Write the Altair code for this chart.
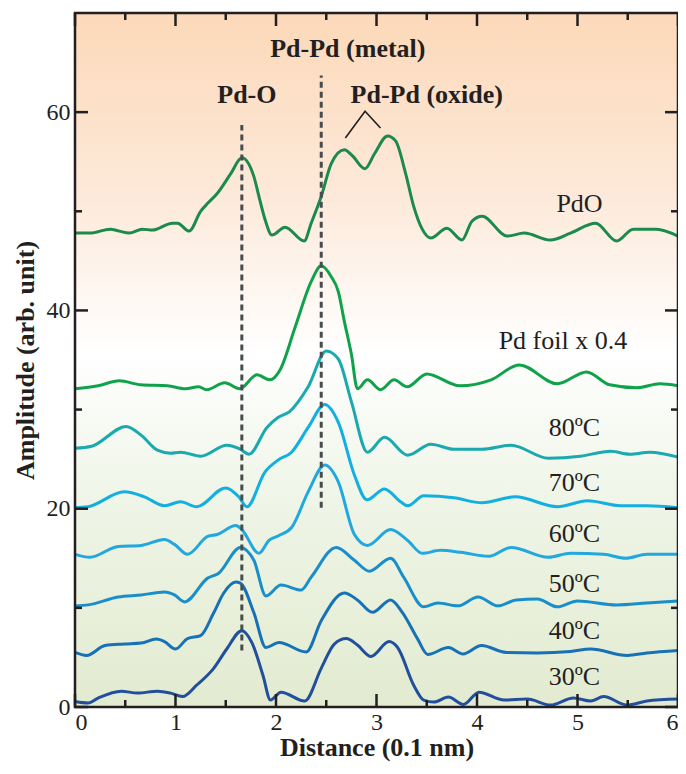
import altair as alt
import pandas as pd

# ---------------- data ----------------
series_names = ["PdO", "Pd foil x 0.4", "80ºC", "70ºC", "60ºC", "50ºC", "40ºC", "30ºC"]
series_colors = ["#1B8A4C", "#10A24A", "#19A9AE", "#12AFE0", "#22A7DF", "#1A8ECB", "#1671B7", "#214F9D"]

pdo_x = [0, 0.15, 0.35, 0.44, 0.54, 0.67, 0.77, 0.97, 1.02, 1.135, 1.25, 1.32, 1.415, 1.55, 1.66, 1.78,
         1.83, 1.89, 1.96, 2.09, 2.28, 2.35, 2.45, 2.55, 2.68, 2.76, 2.885, 2.98, 3.11, 3.19, 3.29, 3.37,
         3.455, 3.54, 3.70, 3.85, 3.95, 4.05, 4.30, 4.47, 4.73, 4.93, 5.18, 5.39, 5.555, 5.785, 6.0]
pdo_y = [47.8, 47.8, 48.2, 48.0, 47.8, 48.2, 48.1, 48.8, 48.8, 48.0, 50.0, 50.8, 51.8, 53.8, 55.4, 53.5,
         51.5, 49.2, 47.6, 48.4, 47.0, 48.8, 51.5, 54.8, 56.2, 55.6, 54.3, 55.8, 57.6, 57.1, 53.8, 50.5,
         48.2, 47.3, 48.3, 47.1, 49.0, 49.5, 47.5, 47.8, 47.1, 47.8, 48.8, 47.0, 48.2, 48.2, 47.5]

foil_x = [0, 0.23, 0.44, 0.655, 0.92, 1.10, 1.23, 1.31, 1.49, 1.64, 1.81, 1.94, 2.04, 2.19, 2.35, 2.45,
          2.55, 2.62, 2.68, 2.75, 2.81, 2.91, 3.04, 3.175, 3.305, 3.50, 3.83, 4.14, 4.42, 4.80, 5.09,
          5.32, 5.59, 5.82, 6.0]
foil_y = [32.1, 32.4, 32.9, 32.5, 32.4, 32.1, 32.3, 32.0, 32.7, 32.1, 33.5, 33.0, 34.0, 38.3, 42.9, 44.5,
          43.4, 41.9, 38.9, 35.6, 32.1, 33.0, 32.0, 33.0, 32.3, 33.6, 32.4, 33.0, 34.5, 32.6, 33.8,
          32.5, 32.2, 32.6, 32.4]

t80_x = [0, 0.165, 0.51, 0.66, 0.82, 0.95, 1.05, 1.25, 1.51, 1.645, 1.73, 1.91, 2.02, 2.135, 2.32, 2.50,
         2.62, 2.75, 2.91, 3.08, 3.31, 3.54, 3.77, 4.05, 4.34, 4.71, 5.03, 5.33, 5.52, 5.72, 6.0]
t80_y = [26.1, 26.3, 28.3, 27.4, 25.9, 25.6, 25.7, 25.3, 26.4, 26.0, 25.5, 28.2, 29.2, 29.8, 32.3, 35.9,
         35.1, 30.8, 25.7, 27.2, 25.4, 26.5, 26.0, 26.0, 26.4, 25.1, 25.3, 25.8, 25.5, 25.7, 25.2]

t70_x = [0, 0.13, 0.49, 0.69, 0.89, 1.05, 1.21, 1.50, 1.63, 1.71, 1.89, 2.02, 2.155, 2.32, 2.485, 2.62,
         2.78, 2.905, 3.08, 3.24, 3.31, 3.47, 3.77, 4.05, 4.38, 4.80, 5.10, 5.43, 5.69, 6.0]
t70_y = [20.1, 20.2, 21.7, 21.2, 20.3, 20.7, 20.2, 22.1, 21.2, 20.2, 23.7, 24.9, 25.7, 28.2, 30.5, 28.7,
         23.4, 20.9, 22.0, 20.7, 20.3, 21.3, 21.1, 20.6, 21.2, 20.2, 20.8, 20.3, 20.3, 20.1]

t60_x = [0, 0.15, 0.43, 0.66, 0.89, 0.99, 1.12, 1.32, 1.415, 1.60, 1.66, 1.83, 1.93, 2.02, 2.155, 2.32,
         2.485, 2.62, 2.78, 2.91, 3.14, 3.31, 3.455, 3.635, 3.84, 4.12, 4.34, 4.71, 4.93, 5.26, 5.48,
         5.69, 6.0]
t60_y = [15.4, 15.1, 16.2, 16.3, 16.9, 16.4, 15.4, 17.2, 17.4, 18.3, 17.9, 15.5, 16.8, 17.25, 18.1, 21.7,
         24.4, 22.7, 17.4, 16.3, 17.9, 16.8, 15.5, 15.8, 15.6, 15.2, 16.1, 15.1, 15.5, 15.4, 15.0,
         15.4, 15.4]

t50_x = [0, 0.13, 0.43, 0.66, 0.89, 0.99, 1.09, 1.32, 1.43, 1.645, 1.78, 1.90, 2.05, 2.25, 2.35, 2.60,
         2.78, 2.93, 3.14, 3.27, 3.47, 3.61, 3.81, 4.01, 4.21, 4.39, 4.60, 4.80, 5.00, 5.39, 5.69, 6.0]
t50_y = [10.2, 10.3, 11.1, 11.3, 11.6, 11.3, 10.6, 13.0, 13.5, 16.1, 14.8, 11.2, 12.3, 11.8, 13.1, 16.1,
         14.8, 13.7, 15.0, 13.1, 10.1, 10.5, 10.2, 11.1, 10.2, 10.8, 10.9, 10.1, 10.7, 10.3, 10.5, 10.7]

t40_x = [0, 0.115, 0.30, 0.49, 0.66, 0.81, 0.89, 1.00, 1.12, 1.25, 1.38, 1.48, 1.60, 1.645, 1.78, 1.90,
         2.03, 2.30, 2.45, 2.68, 2.81, 2.96, 3.14, 3.26, 3.41, 3.51, 3.715, 3.86, 4.045, 4.29, 4.60,
         4.93, 5.13, 5.495, 5.69, 6.0]
t40_y = [5.5, 5.2, 6.2, 6.35, 6.45, 6.85, 6.6, 5.85, 6.9, 7.2, 9.5, 11.5, 12.6, 12.5, 9.5, 6.0,
         6.5, 5.55, 8.7, 11.5, 10.8, 9.55, 10.8, 9.5, 6.85, 5.3, 6.0, 5.35, 6.2, 5.5, 5.45,
         5.6, 5.85, 5.2, 5.45, 5.7]

t30_x = [0, 0.13, 0.23, 0.46, 0.62, 0.82, 0.95, 1.07, 1.21, 1.38, 1.51, 1.66, 1.76, 1.87, 1.945, 2.05,
         2.285, 2.45, 2.58, 2.70, 2.81, 2.945, 3.125, 3.21, 3.37, 3.47, 3.57, 3.715, 3.865, 4.02, 4.27,
         4.50, 4.73, 4.96, 5.13, 5.26, 5.49, 5.69, 6.0]
t30_y = [0.55, 0.4, 0.9, 1.6, 1.4, 1.6, 1.4, 1.05, 2.2, 3.9, 5.85, 7.7, 6.5, 3.2, 0.7, 1.5,
         0.6, 3.9, 6.35, 6.9, 6.25, 5.1, 6.6, 6.0, 2.2, 0.7, 0.5, 1.0, 0.25, 1.5, 0.7,
         0.8, 0.2, 0.9, 0.6, 1.05, 0.2, 0.6, 0.8]

series_x = [pdo_x, foil_x, t80_x, t70_x, t60_x, t50_x, t40_x, t30_x]
series_y = [pdo_y, foil_y, t80_y, t70_y, t60_y, t50_y, t40_y, t30_y]

# series labels
label_text = series_names
label_x = [5.02, 4.855, 4.97, 4.97, 4.97, 4.97, 4.97, 4.97]
label_y = [50.7, 36.9, 28.1, 22.6, 17.4, 12.4, 7.64, 2.98]

# bond annotations
bond_text = ["Pd-Pd (metal)", "Pd-O", "Pd-Pd (oxide)"]
bond_x = [2.715, 1.71, 3.50]
bond_y = [66.4, 61.7, 61.7]

# dashed guide lines
guide_x = [1.66, 2.45]
guide_y1 = [5.7, 20.1]
guide_y2 = [58.7, 63.7]

# bracket for the two oxide peaks
bracket_x = [2.69, 2.886, 3.04]
bracket_y = [57.4, 60.1, 58.4]

x_major = [0, 1, 2, 3, 4, 5, 6]
x_minor = [0.5, 1.5, 2.5, 3.5, 4.5, 5.5]
y_major = [0, 20, 40, 60]
y_minor = [10, 30, 50]

# ---------------- build tables ----------------
rows = []
for name, xs_, ys_ in zip(series_names, series_x, series_y):
    for i, (xv, yv) in enumerate(zip(xs_, ys_)):
        rows.append({"series": name, "x": xv, "y": yv, "i": i})
curves = pd.DataFrame(rows)

labels_df = pd.DataFrame({"x": label_x, "y": label_y, "t": label_text})
bonds_df = pd.DataFrame({"x": bond_x, "y": bond_y, "t": bond_text})
guides_df = pd.DataFrame({"x": guide_x, "y": guide_y1, "y2": guide_y2})
bracket_df = pd.DataFrame({"x": bracket_x, "y": bracket_y, "i": [0, 1, 2]})
one = pd.DataFrame({"a": [0]})

W, H = 603, 694
FONT = "Liberation Serif"
INK = "#231F20"
MAJ, MIN = 13, 7

xs = alt.Scale(domain=[0, 6], nice=False, zero=False)
ys = alt.Scale(domain=[0, 70], nice=False, zero=False)

x_axis = alt.Axis(values=x_major, format="d", ticks=False, domain=False, grid=False,
                  labelFont=FONT, labelFontSize=24, labelColor=INK, labelPadding=3,
                  title="Distance (0.1 nm)", titleFont=FONT, titleFontSize=26,
                  titleFontWeight="bold", titleColor=INK, titlePadding=0)
y_axis = alt.Axis(values=y_major, format="d", ticks=False, domain=False, grid=False,
                  labelFont=FONT, labelFontSize=24, labelColor=INK, labelPadding=5,
                  title="Amplitude (arb. unit)", titleFont=FONT, titleFontSize=26,
                  titleFontWeight="bold", titleColor=INK, titlePadding=8)


def X(field):
    return alt.X(field, scale=xs, axis=x_axis)


def Y(field):
    return alt.Y(field, scale=ys, axis=y_axis)


background = alt.Chart(one).mark_rect(
    color=alt.Gradient(
        gradient="linear",
        stops=[alt.GradientStop(color="#FCD9B9", offset=0),
               alt.GradientStop(color="#FDE8D8", offset=0.25),
               alt.GradientStop(color="#FFFFFF", offset=0.49),
               alt.GradientStop(color="#EFF5E7", offset=0.7),
               alt.GradientStop(color="#E2EBD0", offset=1)],
        x1=0, x2=0, y1=0, y2=1)
).encode(x=alt.value(0), x2=alt.value(W), y=alt.value(0), y2=alt.value(H))

lines = alt.Chart(curves).mark_line(strokeWidth=3, interpolate="monotone").encode(
    x=X("x:Q"),
    y=Y("y:Q"),
    color=alt.Color("series:N", scale=alt.Scale(domain=series_names, range=series_colors), legend=None),
    order=alt.Order("i:Q"),
)

guides = alt.Chart(guides_df).mark_rule(strokeWidth=3, strokeDash=[6, 4], color="#474D4E").encode(
    x=X("x:Q"),
    y=Y("y:Q"),
    y2="y2:Q",
)

bracket = alt.Chart(bracket_df).mark_line(strokeWidth=1.6, color=INK).encode(
    x=X("x:Q"),
    y=Y("y:Q"),
    order=alt.Order("i:Q"),
)

bond_text_layer = alt.Chart(bonds_df).mark_text(
    font=FONT, fontSize=26, fontWeight="bold", color=INK, align="center", baseline="middle"
).encode(x=X("x:Q"), y=Y("y:Q"), text="t:N")

label_layer = alt.Chart(labels_df).mark_text(
    font=FONT, fontSize=26, color=INK, align="center", baseline="middle"
).encode(x=X("x:Q"), y=Y("y:Q"), text="t:N")


def xticks(vals, length, top):
    d = pd.DataFrame({"x": vals})
    if top:
        yy, yy2 = alt.value(0), alt.value(length)
    else:
        yy, yy2 = alt.value(H), alt.value(H - length)
    return alt.Chart(d).mark_rule(strokeWidth=2.5, color=INK).encode(x=X("x:Q"), y=yy, y2=yy2)


def yticks(vals, length, right):
    d = pd.DataFrame({"y": vals})
    if right:
        xx, xx2 = alt.value(W), alt.value(W - length)
    else:
        xx, xx2 = alt.value(0), alt.value(length)
    return alt.Chart(d).mark_rule(strokeWidth=2.5, color=INK).encode(y=Y("y:Q"), x=xx, x2=xx2)


ticks = [xticks(x_major, MAJ, False), xticks(x_minor, MIN, False),
         xticks(x_major, MAJ, True), xticks(x_minor, MIN, True),
         yticks(y_major, MAJ, False), yticks(y_minor, MIN, False),
         yticks(y_major, MAJ, True), yticks(y_minor, MIN, True)]

frame = alt.Chart(one).mark_rect(filled=False, stroke=INK, strokeWidth=2.5).encode(
    x=alt.value(0), x2=alt.value(W), y=alt.value(0), y2=alt.value(H))

chart = alt.layer(lines, background, guides, bracket, bond_text_layer, label_layer, *ticks, frame).properties(
    width=W, height=H,
    autosize=alt.AutoSizeParams(type="none"),
    padding={"left": 67, "top": 5, "right": 0, "bottom": 55},
).configure_view(stroke=None).configure(background="white")

# draw the background first while keeping the axis-defining layer first in the spec
chart.layer = [background, lines] + chart.layer[2:]

chart.save("out.html", embed_options={"renderer": "svg", "actions": False})
